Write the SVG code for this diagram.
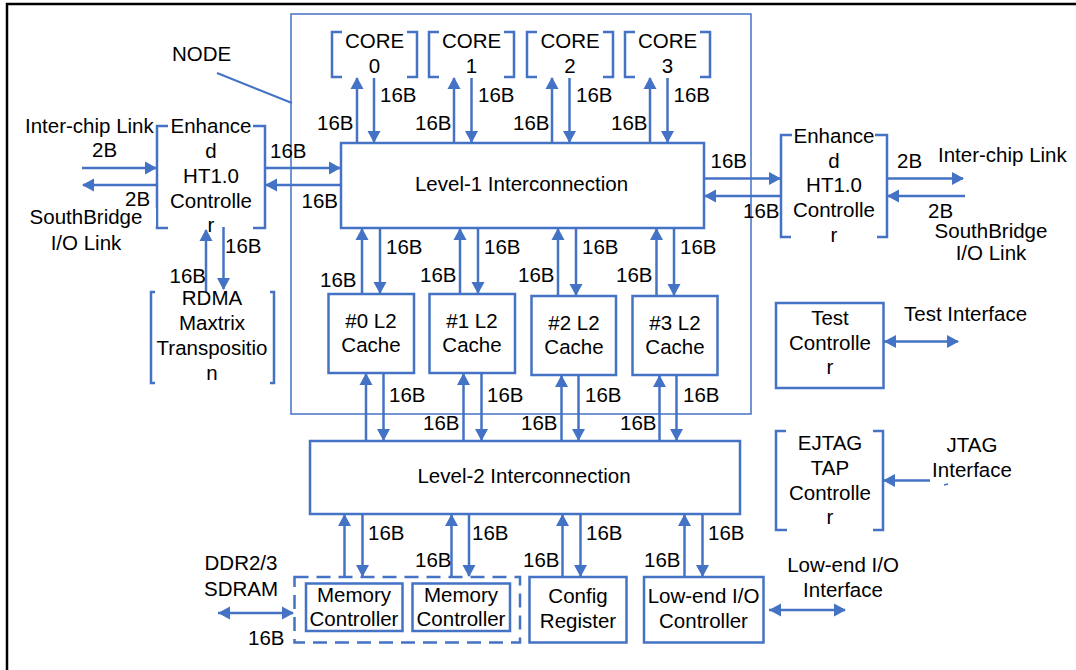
<svg xmlns="http://www.w3.org/2000/svg" width="1076" height="670" viewBox="0 0 1076 670">
<style>
text{font-family:"Liberation Sans",Arial,sans-serif;font-size:20.5px;fill:#000}
.m{text-anchor:middle}
.box{fill:#fff;stroke:#4472C4;stroke-width:2.5}
.br{fill:none;stroke:#4472C4;stroke-width:2.5}
.ln{fill:none;stroke:#4472C4;stroke-width:2.5}
.a{fill:none;stroke:#4472C4;stroke-width:2.5;marker-end:url(#ah)}
.d{fill:none;stroke:#4472C4;stroke-width:2.5;marker-end:url(#ah);marker-start:url(#as)}
</style>
<defs>
<marker id="ah" markerUnits="userSpaceOnUse" markerWidth="13" markerHeight="14" refX="11" refY="7" orient="auto"><path d="M0,0.5 L12,7 L0,13.5 z" fill="#4472C4"/></marker>
<marker id="as" markerUnits="userSpaceOnUse" markerWidth="13" markerHeight="14" refX="1" refY="7" orient="auto"><path d="M13,0.5 L1,7 L13,13.5 z" fill="#4472C4"/></marker>
</defs>
<rect x="0" y="0" width="1076" height="670" fill="#fff"/>
<rect x="7" y="4" width="1090" height="690" fill="none" stroke="#000" stroke-width="2.5"/>

<g id="node-frame">
<rect x="291" y="14" width="460" height="400" fill="none" stroke="#4472C4" stroke-width="1.5"/>
<line x1="217" y1="73" x2="292" y2="103" stroke="#4472C4" stroke-width="2"/>
<text x="172" y="61">NODE</text>
</g>

<g id="connectors">
<line class="a" x1="357" y1="143" x2="357" y2="78"/>
<line class="a" x1="374" y1="78" x2="374" y2="142"/>
<line class="a" x1="454" y1="143" x2="454" y2="78"/>
<line class="a" x1="471.5" y1="78" x2="471.5" y2="142"/>
<line class="a" x1="552" y1="143" x2="552" y2="78"/>
<line class="a" x1="569.5" y1="78" x2="569.5" y2="142"/>
<line class="a" x1="650" y1="143" x2="650" y2="78"/>
<line class="a" x1="667.5" y1="78" x2="667.5" y2="142"/>
<line class="a" x1="362" y1="294" x2="362" y2="229"/>
<line class="a" x1="380" y1="228" x2="380" y2="293"/>
<line class="a" x1="460" y1="294" x2="460" y2="229"/>
<line class="a" x1="478" y1="228" x2="478" y2="293"/>
<line class="a" x1="558" y1="296" x2="558" y2="229"/>
<line class="a" x1="576" y1="228" x2="576" y2="295"/>
<line class="a" x1="656.5" y1="296" x2="656.5" y2="229"/>
<line class="a" x1="674" y1="228" x2="674" y2="295"/>
<line class="a" x1="366" y1="441" x2="366" y2="374"/>
<line class="a" x1="383.5" y1="373" x2="383.5" y2="440"/>
<line class="a" x1="463.5" y1="441" x2="463.5" y2="374"/>
<line class="a" x1="481.5" y1="373" x2="481.5" y2="440"/>
<line class="a" x1="561.5" y1="441" x2="561.5" y2="376"/>
<line class="a" x1="578.5" y1="375" x2="578.5" y2="440"/>
<line class="a" x1="659.5" y1="441" x2="659.5" y2="376"/>
<line class="a" x1="676.5" y1="375" x2="676.5" y2="440"/>
<line class="a" x1="344.5" y1="577" x2="344.5" y2="515"/>
<line class="a" x1="362.5" y1="514" x2="362.5" y2="576"/>
<line class="a" x1="451.5" y1="577" x2="451.5" y2="515"/>
<line class="a" x1="469" y1="514" x2="469" y2="576"/>
<line class="a" x1="562.5" y1="577" x2="562.5" y2="515"/>
<line class="a" x1="580.5" y1="514" x2="580.5" y2="576"/>
<line class="a" x1="684.5" y1="577" x2="684.5" y2="515"/>
<line class="a" x1="702.5" y1="514" x2="702.5" y2="576"/>
<line class="a" x1="82" y1="168" x2="156" y2="168"/>
<line class="a" x1="158" y1="185" x2="83" y2="185"/>
<line class="a" x1="265" y1="168" x2="340" y2="168"/>
<line class="a" x1="341" y1="185" x2="266" y2="185"/>
<line class="a" x1="206" y1="292" x2="206" y2="230"/>
<line class="a" x1="223.5" y1="227" x2="223.5" y2="289"/>
<line class="a" x1="704" y1="178.5" x2="780" y2="178.5"/>
<line class="a" x1="781" y1="196" x2="705" y2="196"/>
<line class="a" x1="887" y1="178.5" x2="963" y2="178.5"/>
<line class="a" x1="965" y1="196" x2="888" y2="196"/>
<line class="d" x1="884" y1="341.5" x2="958" y2="341.5"/>
<line class="a" x1="930" y1="480.5" x2="884" y2="480.5"/>
<line x1="944" y1="485" x2="948" y2="484" stroke="#4472C4" stroke-width="1.5"/>
<line class="d" x1="218" y1="613" x2="293" y2="613"/>
<line class="d" x1="769" y1="610" x2="845" y2="610"/>
</g>

<g id="core0">
<path class="br" d="M342,32 H332 V77 H342 M407,32 H417 V77 H407"/>
<text class="m" x="374.5" y="48">CORE</text><text class="m" x="374.5" y="73">0</text>
</g>
<g id="core1">
<path class="br" d="M439,32 H429 V77 H439 M504,32 H514 V77 H504"/>
<text class="m" x="471.5" y="48">CORE</text><text class="m" x="471.5" y="73">1</text>
</g>
<g id="core2">
<path class="br" d="M537,32 H527 V77 H537 M603,32 H613 V77 H603"/>
<text class="m" x="570" y="48">CORE</text><text class="m" x="570" y="73">2</text>
</g>
<g id="core3">
<path class="br" d="M635,32 H625 V77 H635 M700,32 H710 V77 H700"/>
<text class="m" x="667.5" y="48">CORE</text><text class="m" x="667.5" y="73">3</text>
</g>

<g id="level1">
<rect class="box" x="341" y="143" width="363" height="85"/>
<text class="m" x="521.5" y="191">Level-1 Interconnection</text>
</g>

<g id="l2cache0"><rect class="box" x="328.5" y="294" width="85.5" height="79"/>
<text class="m" x="371" y="328">#0 L2</text><text class="m" x="371" y="352">Cache</text></g>
<g id="l2cache1"><rect class="box" x="429.5" y="294" width="85.5" height="79"/>
<text class="m" x="472" y="328">#1 L2</text><text class="m" x="472" y="352">Cache</text></g>
<g id="l2cache2"><rect class="box" x="531.5" y="296" width="84.5" height="79"/>
<text class="m" x="574" y="330">#2 L2</text><text class="m" x="574" y="354">Cache</text></g>
<g id="l2cache3"><rect class="box" x="632.5" y="296" width="85" height="79"/>
<text class="m" x="675" y="330">#3 L2</text><text class="m" x="675" y="354">Cache</text></g>

<g id="level2">
<rect class="box" x="310" y="441" width="430" height="73"/>
<text class="m" x="524" y="483">Level-2 Interconnection</text>
</g>

<g id="memory-group">
<rect x="294.5" y="577" width="225.5" height="65.5" fill="none" stroke="#4472C4" stroke-width="2.5" stroke-dasharray="14,8"/>
</g>
<g id="memctrl0"><rect class="box" x="306" y="583.5" width="96.5" height="47.5"/>
<text class="m" x="354" y="602">Memory</text><text class="m" x="354" y="626">Controller</text></g>
<g id="memctrl1"><rect class="box" x="412.5" y="583.5" width="97.5" height="47.5"/>
<text class="m" x="461" y="602">Memory</text><text class="m" x="461" y="626">Controller</text></g>
<g id="config"><rect class="box" x="529.5" y="577" width="97" height="65.5"/>
<text class="m" x="578" y="603">Config</text><text class="m" x="578" y="628">Register</text></g>
<g id="lowend"><rect class="box" x="644" y="577" width="119.5" height="65.5"/>
<text class="m" x="703.5" y="603">Low-end I/O</text><text class="m" x="703.5" y="628">Controller</text></g>

<g id="ht-left">
<path class="br" d="M168,126 H157 V228 H168 M253,126 H265 V228 H253"/>
<text class="m" x="211" y="133">Enhance</text>
<text class="m" x="211" y="157.5">d</text>
<text class="m" x="211" y="182.5">HT1.0</text>
<text class="m" x="211" y="207.5">Controlle</text>
<text class="m" x="211" y="232">r</text>
</g>
<g id="ht-right">
<path class="br" d="M792,135 H781 V237 H791 M875,135 H887 V237 H877"/>
<text class="m" x="834" y="142.5">Enhance</text>
<text class="m" x="834" y="167.5">d</text>
<text class="m" x="834" y="192">HT1.0</text>
<text class="m" x="834" y="217">Controlle</text>
<text class="m" x="834" y="242">r</text>
</g>
<g id="rdma">
<path class="br" d="M155,292 H151 V383 H155 M270,292 H274 V383 H270"/>
<text class="m" x="212" y="305">RDMA</text>
<text class="m" x="212" y="330">Maxtrix</text>
<text class="m" x="212" y="355">Transpositio</text>
<text class="m" x="212" y="380">n</text>
</g>
<g id="test-ctrl">
<rect class="box" x="776" y="303" width="107.5" height="85"/>
<text class="m" x="830" y="325">Test</text>
<text class="m" x="830" y="350">Controlle</text>
<text class="m" x="830" y="373.5">r</text>
</g>
<g id="ejtag">
<path class="br" d="M786,431 H776 V530 H787 M873,431 H883 V530 H873"/>
<text class="m" x="830" y="449.5">EJTAG</text>
<text class="m" x="830" y="475">TAP</text>
<text class="m" x="830" y="500">Controlle</text>
<text class="m" x="830" y="523.5">r</text>
</g>

<g id="labels">
<text x="380" y="102">16B</text><text x="478" y="102">16B</text><text x="576" y="102">16B</text><text x="673.5" y="102">16B</text>
<text x="317" y="130">16B</text><text x="415" y="130">16B</text><text x="513" y="130">16B</text><text x="611" y="130">16B</text>
<text x="386" y="254">16B</text><text x="484" y="254">16B</text><text x="582" y="254">16B</text><text x="680" y="254">16B</text>
<text x="320" y="286.5">16B</text><text x="420" y="282">16B</text><text x="518" y="282">16B</text><text x="616" y="282">16B</text>
<text x="389" y="402">16B</text><text x="487" y="402">16B</text><text x="585" y="402">16B</text><text x="683" y="402">16B</text>
<text x="423" y="430">16B</text><text x="521" y="430">16B</text><text x="620" y="430">16B</text>
<text x="368" y="540">16B</text><text x="472" y="540">16B</text><text x="586" y="540">16B</text><text x="708" y="540">16B</text>
<text x="415" y="567">16B</text><text x="523" y="567">16B</text><text x="644" y="567">16B</text>
<text x="25" y="133">Inter-chip Link</text>
<text x="92" y="157">2B</text>
<text x="125" y="206">2B</text>
<rect x="28" y="208" width="128" height="18" fill="#fff"/>
<text class="m" x="86" y="223.5">SouthBridge</text>
<text class="m" x="86" y="249.5">I/O Link</text>
<text x="270" y="157.5">16B</text>
<text x="301.5" y="207.5">16B</text>
<text x="225" y="253">16B</text>
<text x="169.5" y="282.5">16B</text>
<text x="710.5" y="167.5">16B</text>
<text x="743" y="217.5">16B</text>
<text x="897" y="167.5">2B</text>
<text x="928" y="217.5">2B</text>
<text x="938" y="162">Inter-chip Link</text>
<text class="m" x="991" y="237.5">SouthBridge</text>
<text class="m" x="991" y="260">I/O Link</text>
<text x="904" y="321">Test Interface</text>
<text class="m" x="972" y="452">JTAG</text>
<text class="m" x="972" y="477">Interface</text>
<text class="m" x="241" y="570">DDR2/3</text>
<text class="m" x="241" y="596">SDRAM</text>
<text x="248" y="645">16B</text>
<text class="m" x="843" y="572">Low-end I/O</text>
<text class="m" x="843" y="597">Interface</text>
</g>
</svg>
